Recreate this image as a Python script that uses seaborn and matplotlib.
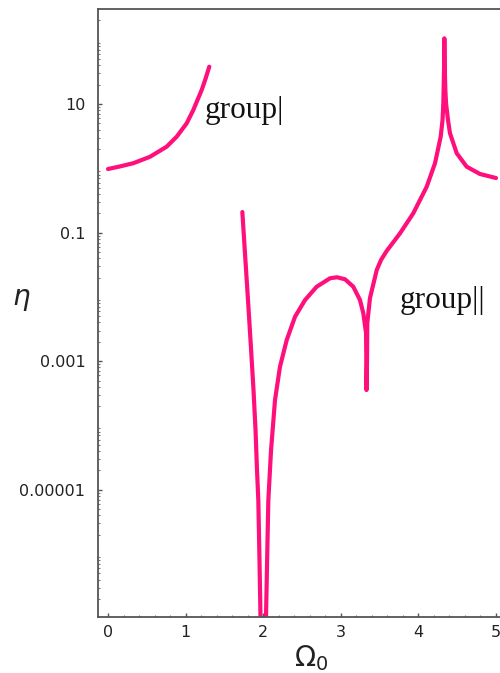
import numpy as np
import pandas as pd
import seaborn as sns
import matplotlib.pyplot as plt
from matplotlib.ticker import FixedLocator, FixedFormatter, LogLocator, MultipleLocator, NullFormatter

# group I branch
omega_g1 = [0.0, 0.155, 0.326, 0.541, 0.756, 0.885, 1.014, 1.099, 1.207, 1.256, 1.305]
eta_g1 = [0.975, 1.07, 1.20, 1.51, 2.17, 3.10, 5.01, 8.07, 16.5, 24.5, 38.0]

# group II branch: first dip at 2.0, second dip near 3.33, spike near 4.33
omega_g2 = [1.731, 1.769, 1.808, 1.840, 1.875, 1.901, 1.920, 1.937, 1.952, 1.965, 1.991, 2.004,
            2.017, 2.036, 2.053, 2.066, 2.101, 2.152, 2.216, 2.303, 2.410, 2.539,
            2.689, 2.861, 2.951, 3.054, 3.161, 3.247, 3.290, 3.325, 3.329,
            3.331,
            3.338, 3.341, 3.376, 3.463, 3.518, 3.591, 3.763, 3.934, 4.107, 4.214,
            4.287, 4.311, 4.321, 4.330, 4.334,
            4.340, 4.347, 4.356, 4.381, 4.407, 4.494, 4.622, 4.794, 5.0]
eta_g2 = [0.209, 0.0403, 0.00748, 1.79e-3, 3.56e-4, 8.5e-5, 2.03e-5, 6.9e-6, 8.1e-7, 1.05e-7, 1.1e-8, 1e-9,
          1.1e-8, 1.05e-7, 1.16e-6, 6.9e-6, 4.16e-5, 2.49e-4, 8.2e-4, 2.14e-3, 4.92e-3, 8.95e-3,
          0.0144, 0.0195, 0.0202, 0.0188, 0.0144, 8.95e-3, 5.56e-3, 2.75e-3, 1.04e-3,
          3.56e-4,
          1.04e-3, 3.88e-3, 9.62e-3, 0.0262, 0.0375, 0.0518, 0.0975, 0.200, 0.518, 1.20,
          3.10, 5.64, 10.3, 33.8, 105.0,
          33.8, 16.5, 10.3, 5.64, 3.50, 1.71, 1.06, 0.815, 0.706]

yticks = [10, 0.1, 0.001, 0.00001]
ytick_labels = ["10", "0.1", "0.001", "0.00001"]

g1 = pd.DataFrame({"omega": omega_g1, "eta": eta_g1})
g2 = pd.DataFrame({"omega": omega_g2, "eta": eta_g2})

sns.set_style("ticks")
plt.rcParams["font.family"] = ["DejaVu Sans"]

fig = plt.figure(figsize=(5, 6.73), dpi=100)
ax = fig.add_axes([0.196, 0.0832, 0.81, 0.9034])

pink = "#ff0f7b"
sns.lineplot(data=g1, x="omega", y="eta", ax=ax, color=pink, lw=3,
             estimator=None, sort=False)
sns.lineplot(data=g2, x="omega", y="eta", ax=ax, color=pink, lw=3,
             estimator=None, sort=False)

ax.set_yscale("log")
ax.set_xlim(-0.129, 5.09)
ax.set_ylim(10 ** -6.978, 10 ** 2.477)

ax.yaxis.set_major_locator(FixedLocator(yticks))
ax.yaxis.set_major_formatter(FixedFormatter(ytick_labels))
ax.yaxis.set_minor_locator(LogLocator(base=10, subs=np.arange(2, 10) * 1.0, numticks=30))
ax.yaxis.set_minor_formatter(NullFormatter())
ax.xaxis.set_major_locator(MultipleLocator(1))
ax.xaxis.set_minor_locator(MultipleLocator(0.2))

ax.tick_params(axis="both", which="major", direction="in", length=3, width=1,
               color="#555555", labelsize=11.5, labelcolor="#222222")
ax.tick_params(axis="both", which="minor", direction="in", length=1.5, width=0.8,
               color="#777777")
ax.tick_params(axis="y", which="major", pad=9)
ax.tick_params(axis="x", which="major", pad=6)

for side in ["left", "top", "bottom"]:
    ax.spines[side].set_color("#555555")
    ax.spines[side].set_linewidth(1.3)
ax.spines["right"].set_visible(False)

ax.set_xlabel(r"$\Omega_0$", fontsize=20, color="#222222")
ax.xaxis.set_label_coords(0.527, -0.043)
ax.set_ylabel(r"$\eta$", fontsize=20, rotation=0, color="#222222")
ax.yaxis.set_label_coords(-0.19, 0.5)

ax.text(1.25, 8.0, "group|", family="Liberation Serif", fontsize=22.5, color="#111111",
        va="center", ha="left")
ax.text(3.763, 0.0089, "group||", family="Liberation Serif", fontsize=22.5,
        color="#111111", va="center", ha="left")

fig.savefig("out.png", dpi=100)
